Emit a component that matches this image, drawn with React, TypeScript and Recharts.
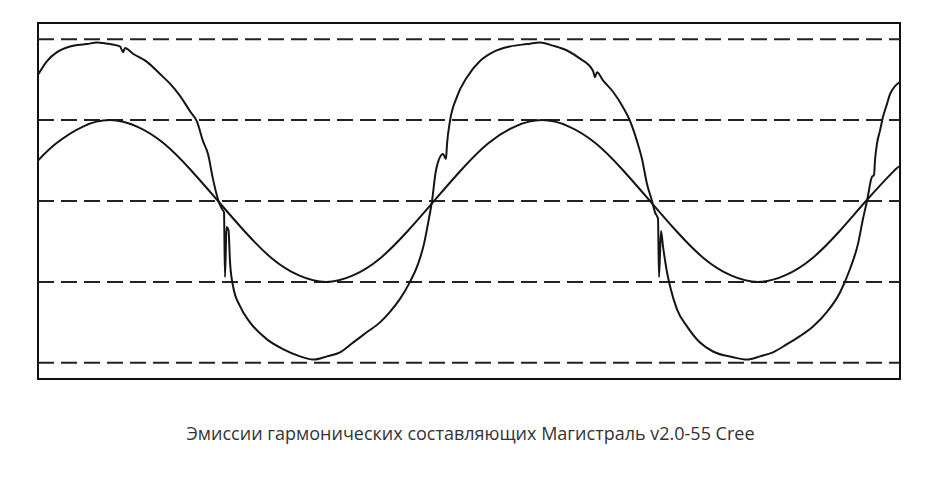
import { LineChart, Line, XAxis, YAxis, ReferenceLine, ReferenceArea } from 'recharts';

// smooth wave (voltage)
const sineX = [38, 56, 83, 110, 137, 164, 191, 218, 245, 272, 299, 326, 353, 380, 407, 434, 461, 488, 515, 542, 569, 596, 623, 650, 677, 704, 731, 758, 785, 812, 839, 866, 893, 900];
const sineY = [0.5, 0.71, 0.92, 1.0, 0.92, 0.71, 0.38, 0, -0.38, -0.71, -0.92, -1.0, -0.92, -0.71, -0.38, 0, 0.38, 0.71, 0.92, 1.0, 0.92, 0.71, 0.38, 0, -0.38, -0.71, -0.92, -1.0, -0.92, -0.71, -0.38, 0, 0.36, 0.43];

// distorted wave (current)
const currX = [38, 47, 57, 70, 87, 97, 110, 120, 123, 125, 133, 147, 160, 170, 180, 190, 197, 203, 208, 213, 218, 222, 224, 225, 226.5, 228.5, 230, 233, 240, 250, 267, 283, 300, 313, 327, 340, 353, 367, 380, 390, 400, 410, 418, 424, 428, 432, 436, 443, 446, 447, 450, 457, 467, 480, 493, 510, 527, 540, 553, 567, 580, 593, 595, 597, 603, 613, 623, 630, 637, 642, 647, 652, 655, 658, 659, 661, 663, 667, 670, 677, 687, 700, 713, 733, 747, 760, 773, 787, 800, 813, 827, 840, 850, 858, 863, 867, 872, 874, 875, 877, 880, 883, 887, 890, 895, 900];
const currY = [1.56, 1.73, 1.84, 1.91, 1.94, 1.96, 1.94, 1.91, 1.84, 1.89, 1.82, 1.72, 1.57, 1.45, 1.3, 1.11, 0.98, 0.74, 0.58, 0.27, 0.02, -0.1, -0.14, -0.94, -0.32, -0.36, -0.75, -1.05, -1.3, -1.5, -1.71, -1.83, -1.92, -1.96, -1.92, -1.87, -1.75, -1.62, -1.5, -1.37, -1.21, -1.0, -0.78, -0.53, -0.28, 0, 0.38, 0.58, 0.52, 0.7, 0.99, 1.29, 1.53, 1.73, 1.84, 1.91, 1.94, 1.96, 1.92, 1.86, 1.76, 1.61, 1.53, 1.59, 1.49, 1.35, 1.16, 0.99, 0.74, 0.52, 0.21, 0, -0.14, -0.22, -0.94, -0.37, -0.56, -0.88, -1.05, -1.34, -1.55, -1.75, -1.86, -1.93, -1.96, -1.92, -1.87, -1.77, -1.67, -1.55, -1.37, -1.13, -0.84, -0.53, -0.22, 0, 0.3, 0.32, 0.5, 0.71, 0.87, 1.04, 1.2, 1.32, 1.42, 1.47];

const gridLevels = [-2, -1, 0, 1, 2];
const title = 'Эмиссии гармонических составляющих Магистраль v2.0-55 Cree';

const sineData = sineX.map((x, i) => ({ x, v: sineY[i] }));
const currData = currX.map((x, i) => ({ x, v: currY[i] }));

export default function App() {
    return (
        <div style={{ position: 'absolute', left: 0, top: 0, width: 941, height: 501, background: '#fff' }}>
            <LineChart width={941} height={501} margin={{ top: 23, right: 41, left: 38, bottom: 122 }}>
                <XAxis dataKey="x" type="number" domain={[38, 900]} hide allowDataOverflow />
                <YAxis type="number" domain={[-2.2, 2.2]} hide allowDataOverflow />
                <ReferenceArea x1={38} x2={900} y1={-2.2} y2={2.2} fill="none" stroke="#111" strokeWidth={2} />
                {gridLevels.map((y) => (
                    <ReferenceLine key={y} y={y} stroke="#222" strokeWidth={2} strokeDasharray="16 7" />
                ))}
                <Line data={sineData} dataKey="v" type="natural" stroke="#151515" strokeWidth={2} dot={false} isAnimationActive={false} />
                <Line data={currData} dataKey="v" type="monotone" stroke="#151515" strokeWidth={2} dot={false} isAnimationActive={false} />
            </LineChart>
            <div
                style={{
                    position: 'absolute',
                    top: 421,
                    left: 0,
                    width: 941,
                    textAlign: 'center',
                    fontFamily: '"Open Sans", sans-serif',
                    fontSize: 18,
                    color: '#333',
                }}
            >
                {title}
            </div>
        </div>
    );
}
